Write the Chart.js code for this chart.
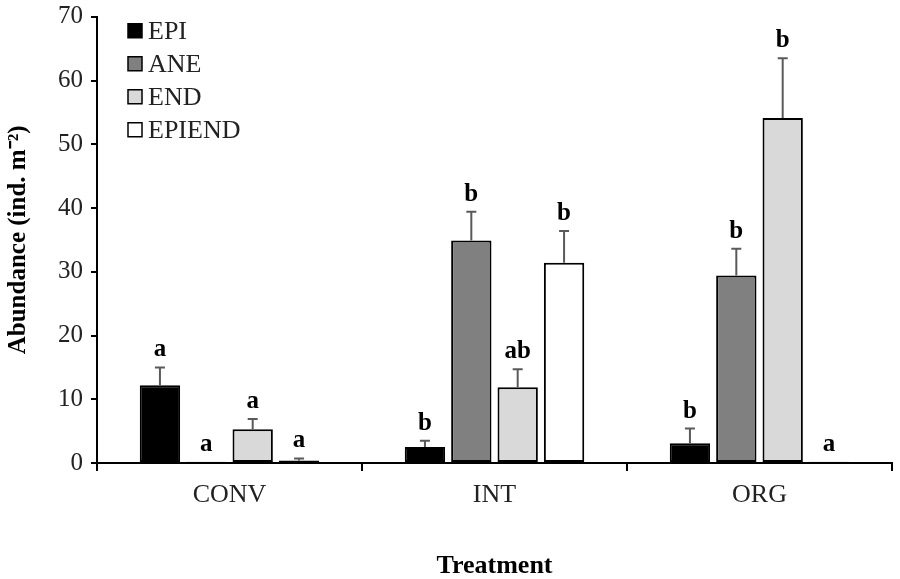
<!DOCTYPE html>
<html>
<head>
<meta charset="utf-8">
<script src="https://cdn.jsdelivr.net/npm/chart.js@4.4.1/dist/chart.umd.min.js"></script>
<style>
  html, body { margin: 0; padding: 0; background: #fff; }
  #wrap { width: 900px; height: 579px; }
</style>
</head>
<body>
<div id="wrap"><canvas id="abundanceChart" width="900" height="579"></canvas></div>
<script>
// categories and series
const categories = ['CONV', 'INT', 'ORG'];
const seriesNames = ['EPI', 'ANE', 'END', 'EPIEND'];

const epiValues = [12.2, 2.5, 3.1];
const aneValues = [0.2, 34.9, 29.4];
const endValues = [5.3, 11.9, 54.1];
const epiendValues = [0.4, 31.4, 0.2];

// standard errors (upper whisker only)
const epiErrors = [2.8, 1.0, 2.3];
const aneErrors = [0.0, 4.5, 4.2];
const endErrors = [1.6, 2.8, 9.4];
const epiendErrors = [0.3, 5.0, 0.0];

// significance letters
const epiLetters = ['a', 'b', 'b'];
const aneLetters = ['a', 'b', 'b'];
const endLetters = ['a', 'ab', 'b'];
const epiendLetters = ['a', 'b', 'a'];

const yTicks = [0, 10, 20, 30, 40, 50, 60, 70];

const serif = "'Liberation Serif', 'Times New Roman', serif";
const fills = ['#000000', '#808080', '#d9d9d9', '#ffffff'];

const makeSet = (label, data, fill, errors, letters) => ({
    label: label,
    data: data,
    backgroundColor: fill,
    borderColor: '#000000',
    borderWidth: 2,
    borderSkipped: false,
    errors: errors,
    letters: letters,
    categoryPercentage: 0.70,
    barPercentage: 0.87
});

// error bars + letters above each bar
const errorBarPlugin = {
    id: 'errorBars',
    afterDatasetsDraw(chart) {
        const ctx = chart.ctx;
        const yScale = chart.scales.y;
        chart.data.datasets.forEach((ds, i) => {
            const meta = chart.getDatasetMeta(i);
            meta.data.forEach((bar, j) => {
                const top = ds.data[j] + ds.errors[j];
                const yTop = yScale.getPixelForValue(top);
                const yBar = yScale.getPixelForValue(ds.data[j]);
                ctx.save();
                if (ds.errors[j] > 0) {
                    ctx.strokeStyle = '#5a5a5a';
                    ctx.lineWidth = 2;
                    ctx.beginPath();
                    ctx.moveTo(bar.x, yBar);
                    ctx.lineTo(bar.x, yTop);
                    ctx.moveTo(bar.x - 5, yTop);
                    ctx.lineTo(bar.x + 5, yTop);
                    ctx.stroke();
                }
                ctx.fillStyle = '#000';
                ctx.font = 'bold 25px ' + serif;
                ctx.textAlign = 'center';
                ctx.textBaseline = 'bottom';
                ctx.fillText(ds.letters[j], bar.x, yTop - 5);
                ctx.restore();
            });
        });
    }
};

// legend in the upper-left of the plot
const legendPlugin = {
    id: 'innerLegend',
    afterDraw(chart) {
        const ctx = chart.ctx;
        const area = chart.chartArea;
        ctx.save();
        ctx.font = '26px ' + serif;
        ctx.textBaseline = 'middle';
        ctx.textAlign = 'left';
        seriesNames.forEach((name, i) => {
            const y = area.top + 14 + i * 33;
            const x = area.left + 31;
            ctx.fillStyle = fills[i];
            ctx.fillRect(x, y - 7, 14, 14);
            ctx.strokeStyle = '#000';
            ctx.lineWidth = 1.5;
            ctx.strokeRect(x, y - 7, 14, 14);
            ctx.fillStyle = '#222';
            ctx.fillText(name, x + 20, y + 1);
        });
        ctx.restore();
    }
};

const ctx = document.getElementById('abundanceChart').getContext('2d');
const abundanceChart = new Chart(ctx, {
    type: 'bar',
    data: {
        labels: categories,
        datasets: [
            makeSet('EPI', epiValues, fills[0], epiErrors, epiLetters),
            makeSet('ANE', aneValues, fills[1], aneErrors, aneLetters),
            makeSet('END', endValues, fills[2], endErrors, endLetters),
            makeSet('EPIEND', epiendValues, fills[3], epiendErrors, epiendLetters)
        ]
    },
    options: {
        responsive: false,
        animation: false,
        layout: { padding: { top: 0, right: 8, left: 0, bottom: 0 } },
        plugins: {
            legend: { display: false },
            tooltip: { enabled: false }
        },
        scales: {
            x: {
                offset: true,
                grid: {
                    offset: true,
                    drawOnChartArea: false,
                    drawTicks: true,
                    tickLength: 8,
                    color: '#000',
                    lineWidth: 2
                },
                border: { display: true, color: '#000', width: 2 },
                ticks: {
                    color: '#222',
                    font: { family: serif, size: 26 },
                    padding: 9
                },
                title: {
                    display: true,
                    text: 'Treatment',
                    color: '#000',
                    font: { family: serif, size: 26, weight: 'bold', lineHeight: 0.95 },
                    padding: { top: 30, bottom: 0 }
                },
                afterFit(scale) { scale.height = 116; }
            },
            y: {
                min: 0,
                max: 70,
                afterBuildTicks(scale) {
                    scale.ticks = yTicks.map(v => ({ value: v }));
                },
                grid: {
                    drawOnChartArea: false,
                    drawTicks: true,
                    tickLength: 6,
                    color: '#000',
                    lineWidth: 2
                },
                border: { display: true, color: '#000', width: 2 },
                ticks: {
                    color: '#222',
                    font: { family: serif, size: 25, lineHeight: 0.7 },
                    padding: 8
                },
                title: {
                    display: true,
                    text: 'Abundance (ind. m\u207B\u00B2)',
                    color: '#000',
                    font: { family: serif, size: 25, weight: 'bold' },
                    padding: { top: 4, bottom: 4 }
                },
                afterFit(scale) { scale.width = 97; }
            }
        }
    },
    plugins: [errorBarPlugin, legendPlugin]
});
</script>
</body>
</html>
